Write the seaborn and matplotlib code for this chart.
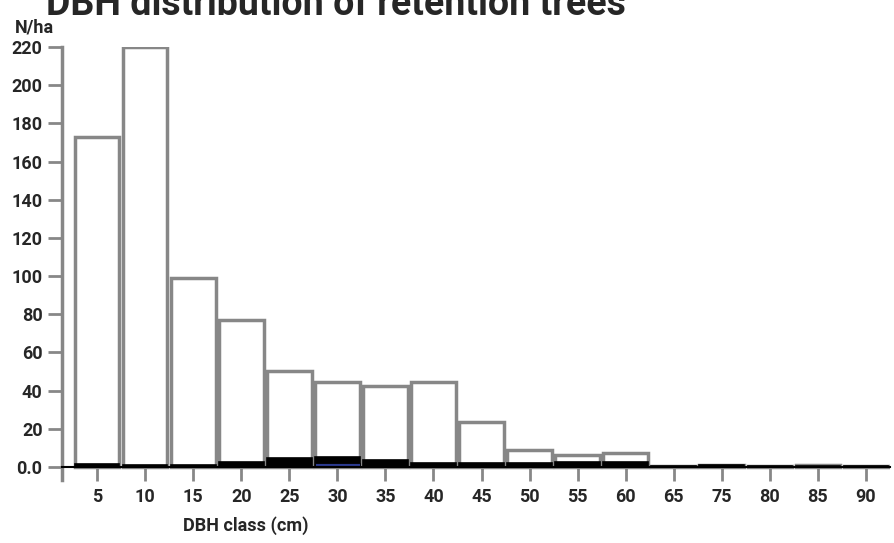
import pandas as pd
import matplotlib
matplotlib.use("Agg")
import matplotlib.pyplot as plt
import seaborn as sns

# DBH classes and stand values (N/ha)
dbh_classes = ["5", "10", "15", "20", "25", "30", "35", "40", "45",
               "50", "55", "60", "65", "75", "80", "85", "90"]
total_n = [173, 220, 99, 77, 50.5, 44.5, 42.5, 44.5, 23.5,
           9, 6.5, 7.5, 0.5, 1.0, 0.5, 1.2, 0.5]
black_n = [1.5, 1.2, 1.2, 2.5, 4.5, 3.5, 3.0, 2.0, 1.5,
           2.2, 2.0, 2.0, 0.5, 1.0, 0.5, 0.6, 0.5]
blue_n = [0, 0, 0, 0, 0, 2.0, 0, 0, 0, 0, 0, 0, 0, 0, 0, 0, 0]
green_n = [0, 0, 0, 0, 0, 0, 0.6, 0, 0.6, 0, 0.6, 0.6, 0, 0, 0, 0, 0]
y_ticks = [0, 20, 40, 60, 80, 100, 120, 140, 160, 180, 200, 220]
y_ticklabels = ["0.0", "20", "40", "60", "80", "100", "120", "140",
                "160", "180", "200", "220"]

df = pd.DataFrame({"dbh": dbh_classes, "total": total_n,
                   "black": black_n, "blue": blue_n, "green": green_n})
# cumulative layers, drawn on top of each other
df["blue_cum"] = df["blue"] + df["green"]
df["black_cum"] = df["black"] + df["blue_cum"]

sns.set_style("white")
plt.rcParams["font.family"] = ["Roboto", "DejaVu Sans"]

fig = plt.figure(figsize=(8.94, 5.43), dpi=100)
ax = fig.add_axes([62 / 894, 1 - 480 / 543, (890 - 62) / 894, (480 - 47) / 543])

gray = "#878787"
sns.barplot(data=df, x="dbh", y="total", order=dbh_classes, color="white",
            edgecolor=gray, linewidth=2.5, width=0.93, saturation=1, ax=ax)
sns.barplot(data=df, x="dbh", y="black_cum", order=dbh_classes, color="black",
            edgecolor="black", linewidth=1.2, width=0.93, saturation=1, ax=ax)
sns.barplot(data=df[df["blue_cum"] > 0], x="dbh", y="blue_cum", order=dbh_classes,
            color="#2b3a8f", edgecolor="black", linewidth=0.6, width=0.93,
            saturation=1, ax=ax)
sns.barplot(data=df[df["green"] > 0], x="dbh", y="green", order=dbh_classes,
            color="#2e7d32", edgecolor="black", linewidth=0.4, width=0.93,
            saturation=1, ax=ax)

ax.set_xlim(-0.73, 16.5)
ax.set_ylim(-6.8, 220)
ax.set_yticks(y_ticks)
ax.set_yticklabels(y_ticklabels)
ax.set_xlabel("")
ax.set_ylabel("")

for s in ["top", "right"]:
    ax.spines[s].set_visible(False)
ax.spines["bottom"].set_position(("data", 0))
ax.spines["bottom"].set_color("black")
ax.spines["bottom"].set_linewidth(1.5)
ax.spines["left"].set_color(gray)
ax.spines["left"].set_linewidth(2.5)
ax.tick_params(axis="y", left=True, length=10, width=2, color=gray,
               labelsize=13, pad=4)
ax.tick_params(axis="x", bottom=True, length=10, width=2, color=gray,
               labelsize=13, pad=5)
for lab in ax.get_xticklabels() + ax.get_yticklabels():
    lab.set_fontweight("bold")

fig.text(46 / 894, 1 - 15 / 543, "DBH distribution of retention trees",
         fontsize=27, fontweight="bold", ha="left", va="baseline")
fig.text(15 / 894, 1 - 32 / 543, "N/ha", fontsize=13, fontweight="bold",
         ha="left", va="baseline")
fig.text(183 / 894, 1 - 531 / 543, "DBH class (cm)", fontsize=13,
         fontweight="bold", ha="left", va="baseline")

plt.savefig("out.png", dpi=100)
